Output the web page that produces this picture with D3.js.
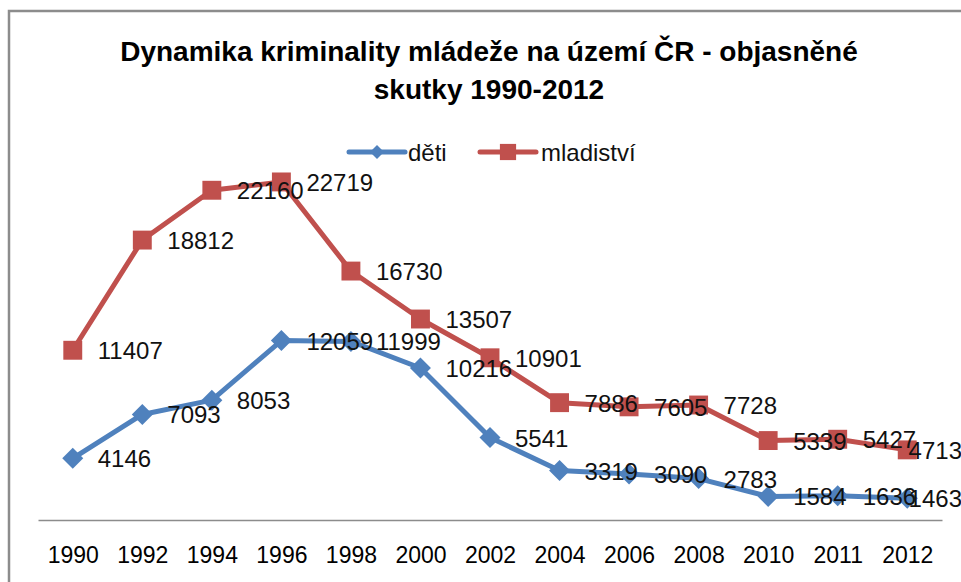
<!DOCTYPE html>
<html>
<head>
<meta charset="utf-8">
<script src="https://cdn.jsdelivr.net/npm/d3@7"></script>
<style>
	html, body { margin: 0; padding: 0; background: #fff; }
	svg { display: block; font-family: "Liberation Sans", Arial, sans-serif; }
</style>
</head>
<body>
<svg id="chart" width="961" height="582"></svg>
<script>
// values
const years = ["1990", "1992", "1994", "1996", "1998", "2000", "2002", "2004", "2006", "2008", "2010", "2011", "2012"];
const deti = [4146, 7093, 8053, 12059, 11999, 10216, 5541, 3319, 3090, 2783, 1584, 1636, 1463];
const mladistvi = [11407, 18812, 22160, 22719, 16730, 13507, 10901, 7886, 7605, 7728, 5339, 5427, 4713];
const seriesNames = ["děti", "mladiství"];
const titleLines = ["Dynamika kriminality mládeže na území ČR - objasněné", "skutky 1990-2012"];

const size = { w: 961, h: 582 };
const colors = ["#4f81bd", "#c0504d"];

let svg = d3.select("#chart");

// outer frame (only left and top edges visible in the crop)
svg.append("path")
	.attr("d", `M9,${size.h + 5}V11H${size.w + 5}`)
	.attr("fill", "none")
	.attr("stroke", "#8c8c8c")
	.attr("stroke-width", 2.5);

// title
svg.append("g")
	.selectAll("text")
	.data(titleLines)
	.join("text")
	.attr("x", 489)
	.attr("y", (d, i) => 61 + i * 38)
	.attr("text-anchor", "middle")
	.attr("font-weight", "bold")
	.attr("font-size", 28)
	.attr("fill", "#000")
	.text((d) => d);

let x = d3.scalePoint().domain(years).range([38, 942]).padding(0.5);
let y = d3.scaleLinear().domain([0, 25000]).range([520, 148]);

// category axis
let xAxis = svg.append("g")
	.attr("transform", "translate(0,520)")
	.call(d3.axisBottom(x).tickSize(0).tickPadding(27).tickSizeOuter(0));
xAxis.select(".domain").attr("stroke", "#8c8c8c").attr("stroke-width", 1.5);
xAxis.selectAll("text")
	.attr("font-size", 23)
	.attr("font-family", "Liberation Sans, Arial, sans-serif")
	.attr("fill", "#000");

let line = d3.line().x((d, i) => x(years[i])).y((d) => y(d));

function marker(sel, k, s) {
	if (k === 0) {
		sel.append("path")
			.attr("d", `M0,${-s}L${s},0L0,${s}L${-s},0Z`)
			.attr("fill", colors[0]);
	} else {
		sel.append("rect")
			.attr("x", -s * 0.9)
			.attr("y", -s * 0.9)
			.attr("width", s * 1.8)
			.attr("height", s * 1.8)
			.attr("fill", colors[1]);
	}
}

let allSeries = [deti, mladistvi];

allSeries.forEach((vals, k) => {
	let g = svg.append("g");
	g.append("path")
		.datum(vals)
		.attr("d", line)
		.attr("fill", "none")
		.attr("stroke", colors[k])
		.attr("stroke-width", 5)
		.attr("stroke-linejoin", "round");
	g.selectAll("g.pt")
		.data(vals)
		.join("g")
		.classed("pt", true)
		.attr("transform", (d, i) => `translate(${x(years[i])},${y(d)})`)
		.each(function () { marker(d3.select(this), k, 10.5); });
});

// data labels on top of everything
allSeries.forEach((vals) => {
	svg.append("g")
		.selectAll("text")
		.data(vals)
		.join("text")
		.attr("font-size", 24)
		.attr("fill", "#111")
		.attr("y", (d) => y(d) + 9)
		.text((d) => d)
		.attr("x", function (d, i) {
			let w = this.getComputedTextLength();
			return Math.min(x(years[i]) + 25, size.w + 1 - w);
		});
});

// legend
let legend = svg.append("g").attr("transform", "translate(0,152)");
let legendPos = [{ x1: 349, x2: 405, t: 408 }, { x1: 480, x2: 536, t: 541 }];
legendPos.forEach((p, k) => {
	legend.append("line")
		.attr("x1", p.x1)
		.attr("x2", p.x2)
		.attr("stroke", colors[k])
		.attr("stroke-width", 5)
		.attr("stroke-linecap", "round");
	let m = legend.append("g").attr("transform", `translate(${(p.x1 + p.x2) / 2},0)`);
	marker(m, k, k === 0 ? 7 : 9);
	legend.append("text")
		.attr("x", p.t)
		.attr("y", 9)
		.attr("font-size", 24)
		.attr("fill", "#111")
		.text(seriesNames[k]);
});
</script>
</body>
</html>
